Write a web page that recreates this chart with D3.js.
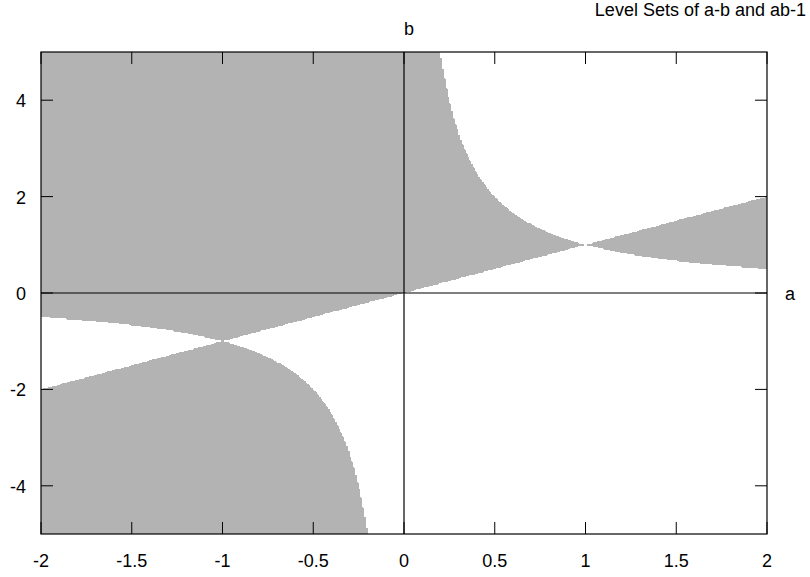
<!DOCTYPE html>
<html lang="en">
<head>
    <meta charset="UTF-8">
    <title>Level Sets of a-b and ab-1</title>
    <script src="https://d3js.org/d3.v7.min.js"></script>
</head>
<style>
    body {
        margin: 0;
        background: #fff;
    }
    svg text {
        font-family: "Liberation Sans", Arial, sans-serif;
        font-size: 18px;
        fill: #000;
    }
</style>
<body>
<div class="chart"></div>
<script>
  /** DATA */
  var aDomain = [-2, 2];
  var bDomain = [-5, 5];
  var aTicks = [-2, -1.5, -1, -0.5, 0, 0.5, 1, 1.5, 2];
  var bTicks = [-4, -2, 0, 2, 4];
  var titleText = 'Level Sets of a-b and ab-1';
  /** sample counts of the grid the level sets were drawn on */
  var aSamples = 400;
  var bSamples = 400;

  /** the two level-set functions named in the title */
  function levelA(a, b) { return a - b; }
  function levelB(a, b) { return a * b - 1; }

  /** LAYOUT */
  var width = 810, height = 577;
  var plotLeft = 41, plotRight = 767, plotTop = 52, plotBottom = 534;

  var svg = d3.select('.chart').append('svg')
    .attr('width', width)
    .attr('height', height);

  var x = d3.scaleLinear().domain(aDomain).range([plotLeft, plotRight]);
  var y = d3.scaleLinear().domain(bDomain).range([plotBottom, plotTop]);

  /** sign grid: shaded where the two functions have the same sign */
  var da = (aDomain[1] - aDomain[0]) / aSamples;
  var db = (bDomain[1] - bDomain[0]) / bSamples;
  var grid = new Array(aSamples * bSamples);
  for (var j = 0; j < bSamples; j++) {
    for (var i = 0; i < aSamples; i++) {
      var a = aDomain[0] + (i + 0.5) * da;
      var b = bDomain[0] + (j + 0.5) * db;
      grid[i + j * aSamples] = levelA(a, b) * levelB(a, b) > 0 ? 1 : 0;
    }
  }

  var contours = d3.contours()
    .size([aSamples, bSamples])
    .smooth(false)
    .thresholds([0.5])(grid);

  /** grid coordinates -> screen through the scales */
  var proj = d3.geoTransform({
    point: function (gx, gy) {
      this.stream.point(x(aDomain[0] + gx * da), y(bDomain[0] + gy * db));
    }
  });
  var path = d3.geoPath(proj);

  svg.append('clipPath').attr('id', 'plot-clip')
    .append('rect')
    .attr('x', plotLeft).attr('y', plotTop)
    .attr('width', plotRight - plotLeft).attr('height', plotBottom - plotTop);

  svg.append('g')
    .attr('clip-path', 'url(#plot-clip)')
    .selectAll('path')
    .data(contours)
    .enter().append('path')
    .attr('d', path)
    .attr('fill', '#b3b3b3')
    .attr('shape-rendering', 'crispEdges');

  /** zero axes */
  svg.append('line')
    .attr('x1', x(0)).attr('x2', x(0))
    .attr('y1', plotTop).attr('y2', plotBottom)
    .attr('stroke', '#000').attr('stroke-width', 1.2);
  svg.append('line')
    .attr('x1', plotLeft).attr('x2', plotRight)
    .attr('y1', y(0)).attr('y2', y(0))
    .attr('stroke', '#000').attr('stroke-width', 1.2);

  /** ticks (inward, mirrored) */
  var tickLen = 12;
  var ticks = svg.append('g').attr('stroke', '#000').attr('stroke-width', 1);
  aTicks.forEach(function (t) {
    ticks.append('line').attr('x1', x(t)).attr('x2', x(t))
      .attr('y1', plotBottom).attr('y2', plotBottom - tickLen);
    ticks.append('line').attr('x1', x(t)).attr('x2', x(t))
      .attr('y1', plotTop).attr('y2', plotTop + tickLen);
  });
  bTicks.forEach(function (t) {
    ticks.append('line').attr('x1', plotLeft).attr('x2', plotLeft + tickLen)
      .attr('y1', y(t)).attr('y2', y(t));
    ticks.append('line').attr('x1', plotRight).attr('x2', plotRight - tickLen)
      .attr('y1', y(t)).attr('y2', y(t));
  });

  /** tick labels */
  svg.append('g').selectAll('text')
    .data(aTicks)
    .enter().append('text')
    .attr('x', function (d) { return x(d); })
    .attr('y', 567)
    .attr('text-anchor', 'middle')
    .text(function (d) { return d; });

  svg.append('g').selectAll('text')
    .data(bTicks)
    .enter().append('text')
    .attr('x', 26)
    .attr('y', function (d) { return y(d) + 7; })
    .attr('text-anchor', 'end')
    .text(function (d) { return d; });

  /** border */
  svg.append('rect')
    .attr('x', plotLeft).attr('y', plotTop)
    .attr('width', plotRight - plotLeft).attr('height', plotBottom - plotTop)
    .attr('fill', 'none')
    .attr('stroke', '#000')
    .attr('stroke-width', 1.2);

  /** axis labels and title */
  svg.append('text').attr('x', x(0) + 5).attr('y', 35)
    .attr('text-anchor', 'middle').text('b');
  svg.append('text').attr('x', 790).attr('y', y(0) + 7)
    .attr('text-anchor', 'middle').text('a');
  svg.append('text').attr('x', 806).attr('y', 16)
    .attr('text-anchor', 'end')
    .text(titleText);
</script>
</body>
</html>
